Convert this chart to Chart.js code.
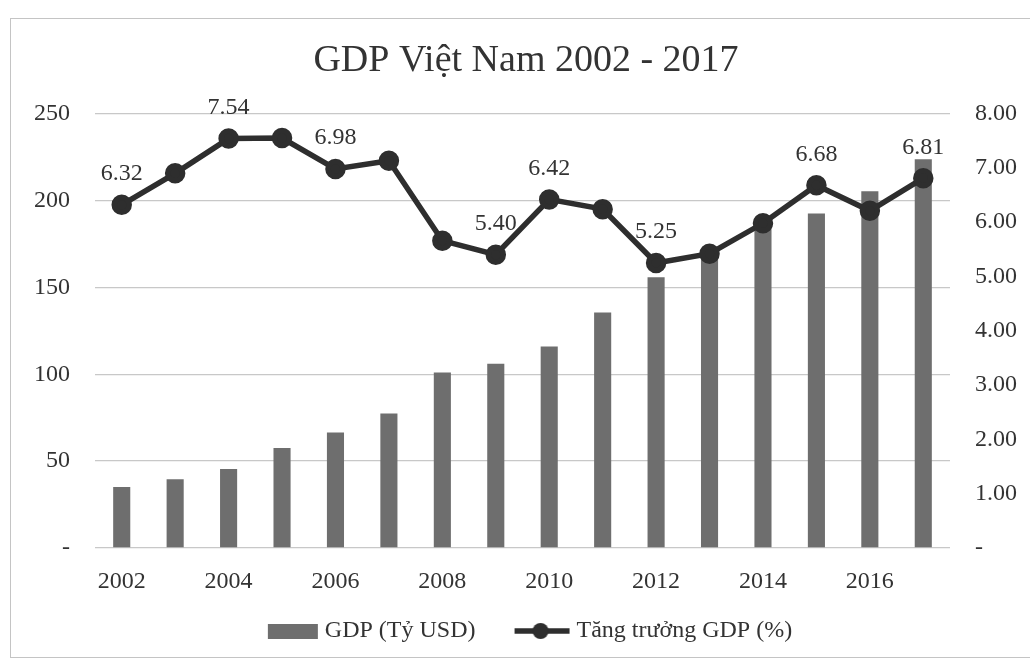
<!DOCTYPE html>
<html>
<head>
<meta charset="utf-8">
<script src="https://cdn.jsdelivr.net/npm/chart.js@4.4.0/dist/chart.umd.min.js"></script>
<style>
  body { margin: 0; background: #fff; }
  #wrap { position: absolute; left: 10px; top: 18px; width: 1030px; height: 638px; border: 1px solid #c4c4c4; }
</style>
</head>
<body>
<div id="wrap"><canvas id="myChart"></canvas></div>
<script>
// data
const years = ['2002','2003','2004','2005','2006','2007','2008','2009','2010','2011','2012','2013','2014','2015','2016','2017'];
const gdpBillions = [35.1, 39.6, 45.4, 57.6, 66.4, 77.4, 101.0, 106.0, 115.9, 135.5, 155.8, 171.2, 186.2, 192.5, 205.3, 223.8];
const growthPct = [6.32, 6.90, 7.54, 7.55, 6.98, 7.13, 5.66, 5.40, 6.42, 6.24, 5.25, 5.42, 5.98, 6.68, 6.21, 6.81];
const labelledPoints = [0, 2, 4, 7, 8, 10, 13, 15];

const serif = '"Liberation Serif", "DejaVu Serif", serif';
const textColor = '#333';

// legend swatches (drawn at the right end of a wider image so the text sits close)
function swatch(kind) {
  const c = document.createElement('canvas');
  c.width = 89; c.height = 20;
  const g = c.getContext('2d');
  if (kind === 'bar') {
    g.fillStyle = '#6e6e6e';
    g.fillRect(37, 3, 50, 15);
  } else {
    g.strokeStyle = '#2e2e2e';
    g.lineWidth = 5.5;
    g.beginPath(); g.moveTo(32, 10); g.lineTo(87, 10); g.stroke();
    g.fillStyle = '#2e2e2e';
    g.beginPath(); g.arc(58, 10, 8, 0, Math.PI * 2); g.fill();
  }
  return c;
}

const pointLabels = {
  id: 'pointLabels',
  afterLayout(chart) {
    // nudge the legend row a bit to the left, like the original
    chart.legend.left -= 11;
    chart.legend.right -= 11;
  },
  afterDatasetsDraw(chart) {
    const ctx = chart.ctx;
    const meta = chart.getDatasetMeta(1);
    ctx.save();
    ctx.font = '24px ' + serif;
    ctx.fillStyle = '#333';
    ctx.textAlign = 'center';
    ctx.textBaseline = 'middle';
    labelledPoints.forEach(i => {
      const p = meta.data[i];
      ctx.fillText(growthPct[i].toFixed(2), p.x, p.y - 31);
    });
    ctx.restore();
  }
};

const ctx = document.getElementById('myChart').getContext('2d');
const chart = new Chart(ctx, {
  data: {
    labels: years,
    datasets: [{
      type: 'bar',
      label: 'GDP (Tỷ USD)',
      data: gdpBillions,
      backgroundColor: '#6e6e6e',
      barPercentage: 0.32,
      categoryPercentage: 1,
      yAxisID: 'y',
      order: 2
    }, {
      type: 'line',
      label: 'Tăng trưởng GDP (%)',
      data: growthPct,
      borderColor: '#2e2e2e',
      backgroundColor: '#2e2e2e',
      borderWidth: 5.5,
      pointRadius: 7.5,
      pointBackgroundColor: '#2e2e2e',
      tension: 0,
      yAxisID: 'y1',
      order: 1
    }]
  },
  options: {
    responsive: true,
    maintainAspectRatio: false,
    animation: false,
    layout: { padding: { top: 0, left: 0, right: 0, bottom: 4 } },
    plugins: {
      title: {
        display: true,
        text: 'GDP Việt Nam 2002 - 2017',
        color: textColor,
        font: { family: serif, size: 38, weight: 'normal' },
        padding: { top: 19, bottom: 30 }
      },
      legend: {
        position: 'bottom',
        labels: {
          color: textColor,
          font: { family: serif, size: 24 },
          usePointStyle: true,
          pointStyleWidth: 75,
          padding: 14,
          generateLabels(ch) {
            return ch.data.datasets.map((ds, i) => ({
              text: ds.label,
              pointStyle: swatch(ds.type),
              fontColor: textColor,
              datasetIndex: i,
              hidden: false
            }));
          }
        }
      },
      tooltip: { enabled: false }
    },
    scales: {
      x: {
        grid: { display: false, drawTicks: false },
        border: { display: false },
        ticks: {
          color: textColor,
          font: { family: serif, size: 24 },
          padding: 19,
          maxRotation: 0,
          autoSkip: false,
          callback: (v, i) => (i % 2 === 0 ? years[i] : '')
        },
        afterFit(s) { s.height = 57; }
      },
      y: {
        position: 'left',
        min: 0, max: 250,
        grid: { color: '#c8c8c8', lineWidth: 1.3, drawTicks: false },
        border: { display: false },
        ticks: {
          stepSize: 50,
          color: textColor,
          padding: 25,
          font: { family: serif, size: 24 },
          callback: v => (v === 0 ? '-' : v)
        },
        afterFit(s) { s.width = 84; }
      },
      y1: {
        position: 'right',
        min: 0, max: 8,
        grid: { display: false, drawTicks: false },
        border: { display: false },
        ticks: {
          stepSize: 1,
          color: textColor,
          padding: 25,
          font: { family: serif, size: 24 },
          callback: v => (v === 0 ? '-' : v.toFixed(2))
        },
        afterFit(s) { s.width = 91; }
      }
    }
  },
  plugins: [pointLabels]
});
</script>
</body>
</html>
